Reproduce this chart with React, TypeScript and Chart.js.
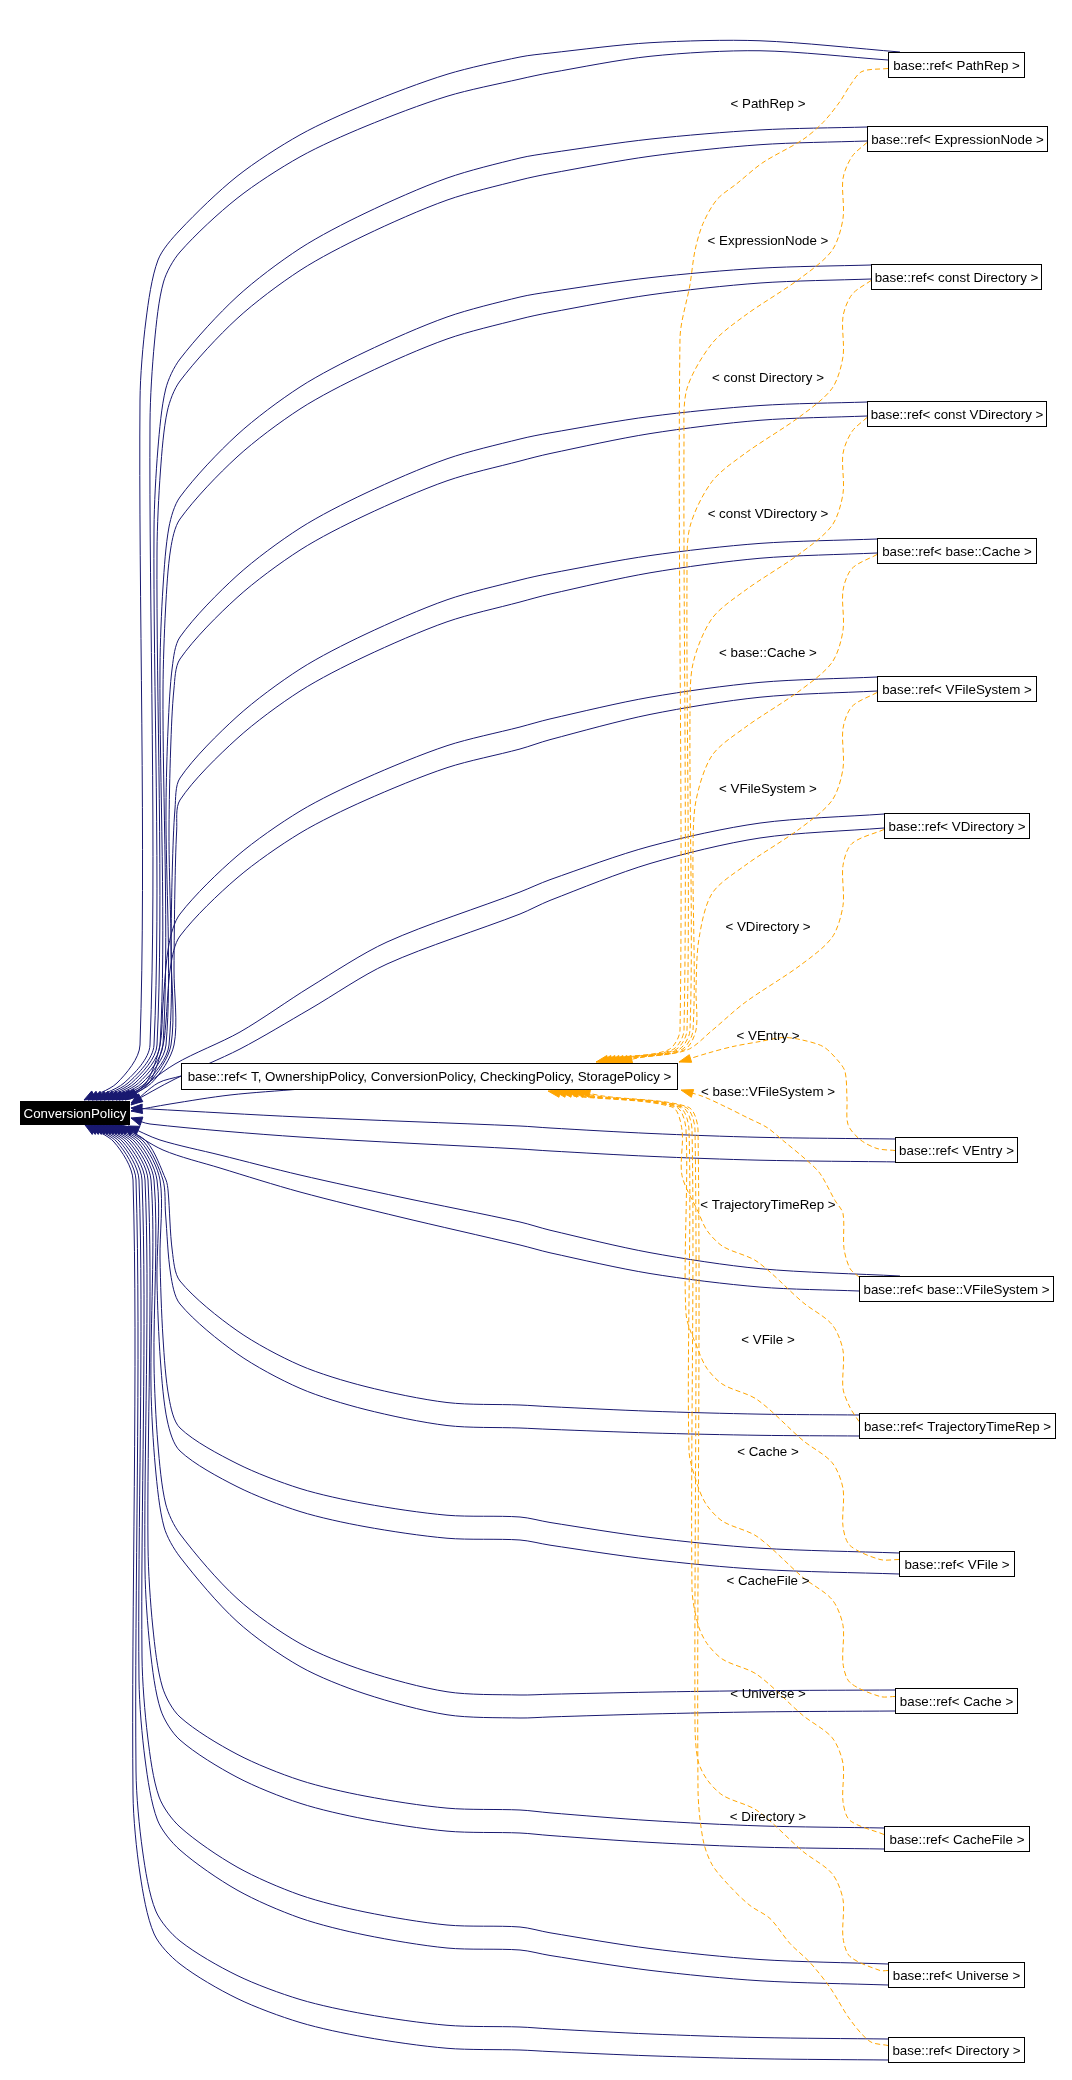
import React, { useEffect, useRef } from 'react';
import { Chart, registerables } from 'chart.js';

Chart.register(...registerables);

const W = 1072;
const H = 2080;
const BLUE = '#191970';
const ORANGE = '#ffa500';
const FONT = '13.33px "Liberation Sans", Arial, Helvetica, sans-serif';

// ---------------- graph content ----------------
const policyName = 'ConversionPolicy';
const templateName = 'base::ref< T, OwnershipPolicy, ConversionPolicy, CheckingPolicy, StoragePolicy >';
const instanceArgs = [
  'PathRep', 'ExpressionNode', 'const Directory', 'const VDirectory', 'base::Cache', 'VFileSystem', 'VDirectory',
  'VEntry', 'base::VFileSystem', 'TrajectoryTimeRep', 'VFile', 'Cache', 'CacheFile', 'Universe', 'Directory',
];
const UP = 7; // first seven instances sit above the template node

// ---------------- node layout (diagram units) ----------------
const policyBox = { left: 20, top: 1101, right: 129, bottom: 1124 };
const templateBox = { left: 181, top: 1063, right: 677, bottom: 1089 };
const boxLeft = [888, 867, 871, 867, 877, 877, 884, 895, 859, 859, 899, 895, 884, 888, 888];
const boxRight = [1024, 1047, 1041, 1046, 1036, 1036, 1029, 1017, 1053, 1055, 1014, 1017, 1029, 1024, 1024];
const boxTop = [52, 126, 264, 401, 538, 676, 813, 1137, 1276, 1413, 1551, 1688, 1826, 1962, 2037];
const BOX_H = 25;
const labelX = 768;
const labelY = [103, 240, 377, 513, 652, 788, 926, 1035, 1091, 1204, 1339, 1451, 1580, 1693, 1816];

// ---------------- blue (usage) edge routing ----------------
const blueYA = [57, 158, 297, 439, 580, 727, 892, 1126, 1222, 1405, 1517, 1695, 1810, 1927, 2027];
const blueBend = [173, 201, 200, 198, 198, 187, 0, 0, 0, 124, 89, 161, 93, 100, 86];
const blueHump = [13, 0, 0, 0, 0, 0, 0, 0, 0, 0, 0, 0, 0, 0, 0];
const blueLane = [[140, 150], [154, 157], [160, 163], [166, 169], [171, 174], [160, 163], [0, 0], [0, 0], [0, 0],
  [166, 163], [160, 157], [154, 151], [148, 145], [142, 139], [136, 133]];
const blueTip = [
  [[84, 1100], [88, 1100]], [[92, 1100], [96, 1100]], [[100, 1100], [104, 1100]], [[108, 1100], [112, 1100]],
  [[116, 1100], [119, 1100]], [[122, 1100], [125, 1100]], [[127, 1099], [131, 1103]],
  [[131, 1108], [131, 1118]], [[128, 1126], [123, 1126]],
  [[118, 1125], [115, 1125]], [[112, 1125], [109, 1125]], [[106, 1125], [103, 1125]], [[100, 1125], [97, 1125]],
  [[94, 1125], [91, 1125]], [[88, 1125], [85, 1125]],
];
const directMid: Record<number, number[][][]> = {
  6: [[[387, 50], [310, 95], [240, 140], [175, 172]], [[387, 50], [310, 95], [240, 135], [175, 165]]],
  7: [[[300, -9], [150, -17]], [[300, -12], [150, -25]]],
  8: [[[400, -25], [300, -47], [220, -67], [160, -82]], [[400, -28], [300, -53], [220, -77], [163, -95]]],
};
const BEND_X = [447, 365, 300, 237, 180];
const BEND_F_UP = [0.1, 0.275, 0.45, 0.69, 1];
const BEND_F_DOWN = [0.02, 0.15, 0.32, 0.6, 1];

// ---------------- orange (template instance) edge routing ----------------
const ORANGE_S_UP = [[852, 18], [843, 40], [843, 80], [832, 112], [800, 140], [745, 177], [712, 205]];
const ORANGE_DIAG_UP = [[862, 7], [850, 21], [840, 37], [823, 58], [803, 75], [763, 98], [737, 119], [717, 135], [703, 159], [695, 186], [690, 220]];
const ORANGE_S_DOWN = [[880, -4], [850, -18], [843, -37], [843, -75], [832, -101], [803, -123], [757, -164], [723, -179], [707, -195], [698, -214]];
const ORANGE_DIAG_DOWN = [[870, -8], [850, -30], [830, -62], [810, -87], [790, -106], [770, -131], [750, -144], [730, -163], [712, -185], [703, -210]];
const ORANGE_LOOP = [[877, -1], [860, -10], [848, -25], [847, -50], [845, -78], [837, -90], [823, -103], [800, -110], [783, -112], [760, -108], [733, -103], [710, -97]];
const ORANGE_CORNER = [[850, -20], [844, -40], [843, -75], [835, -88], [820, -115], [807, -128], [783, -148], [767, -161], [747, -171], [727, -181], [703, -192]];
const orangeShape = ['diagUp', 'sUp', 'sUp', 'sUp', 'sUp', 'sUp', 'sUp', 'loop', 'corner', 'sDown', 'sDown', 'sDown', 'sDown', 'sDown', 'diagDown'];
const orangeLane = [680, 684, 687, 690, 693, 696, 699, 0, 0, 682, 686, 689, 692, 695, 698];
const orangeTipX = [596, 600, 604, 608, 612, 616, 620, 679, 681, 548, 554, 560, 566, 572, 578];

type Pt = { x: number; y: number };

function approach(sx: number, sy: number, yA: number, hump: number): Pt[] {
  const pts: Pt[] = [{ x: sx, y: sy }];
  for (const x of [760, 650, 550]) {
    if (x < sx - 40) {
      const t = (x - 520) / (sx - 520);
      const f = 1 - (1 - t) * (1 - t);
      pts.push({ x, y: yA + (sy - yA) * f - hump * Math.sin(Math.PI * t) });
    }
  }
  pts.push({ x: 520, y: yA });
  return pts;
}

function blueStarts(i: number): Pt[] {
  const l = boxLeft[i];
  const t = boxTop[i];
  if (i === 0) return [{ x: l + 12, y: t }, { x: l, y: t + 8 }];
  if (i < UP) return [{ x: l, y: t + 1 }, { x: l, y: t + 15 }];
  if (i === 7) return [{ x: l, y: t + 2 }, { x: l + 8, y: t + BOX_H }];
  if (i === 8) return [{ x: l + 41, y: t }, { x: l, y: t + 15 }];
  return [{ x: l, y: t + 2 }, { x: l, y: t + 23 }];
}

function blueRoute(i: number, k: number): Pt[] {
  const start = blueStarts(i)[k];
  const gap = i < UP ? 22 : 23;
  const yA = blueYA[i] + k * gap;
  const pts = approach(start.x, start.y, yA, blueHump[i]);
  const [tx, ty] = blueTip[i][k];
  const D = blueBend[i];
  if (D === 0) {
    directMid[i][k].forEach(([x, dy]) => pts.push({ x, y: yA + dy }));
    pts.push({ x: tx, y: ty });
    return pts;
  }
  const lane = blueLane[i][k];
  const s = i < UP ? 1 : -1;
  const fr = i < UP ? BEND_F_UP : BEND_F_DOWN;
  BEND_X.forEach((x, j) => pts.push({ x, y: yA + s * D * fr[j] }));
  const yB = yA + s * D;
  const post = [
    { x: lane + (180 - lane) * 0.45, y: yB + s * 30 },
    { x: lane + (180 - lane) * 0.15, y: yB + s * 90 },
    { x: lane, y: yB + s * 170 },
  ];
  const yLane = i < UP ? 1045 : 1180;
  post.forEach((p) => { if (s * (yLane - p.y) > 5) pts.push(p); });
  pts.push({ x: lane, y: yLane });
  pts.push({ x: (lane + tx) / 2 + 5, y: i < UP ? 1083 : 1142 });
  pts.push({ x: tx, y: ty });
  return pts;
}

function templateRoutes(): Pt[][] {
  const p = policyBox;
  const t = templateBox;
  return [
    [{ x: t.left, y: t.top + 13 }, { x: 158, y: t.top + 20 }, { x: p.right + 2, y: p.top + 4 }],
    [{ x: t.left + 120, y: t.bottom }, { x: 230, y: t.bottom + 6 }, { x: 170, y: p.top + 3 }, { x: p.right + 2, y: p.top + 10 }],
  ];
}

function orangeRoute(i: number): Pt[] {
  const l = boxLeft[i];
  const c = boxTop[i] + BOX_H / 2;
  const shape = orangeShape[i];
  const lane = orangeLane[i];
  const tip = orangeTipX[i];
  const tpl = shape === 'diagUp' ? ORANGE_DIAG_UP : shape === 'sUp' ? ORANGE_S_UP : shape === 'sDown' ? ORANGE_S_DOWN
    : shape === 'diagDown' ? ORANGE_DIAG_DOWN : shape === 'loop' ? ORANGE_LOOP : ORANGE_CORNER;
  const up = shape === 'diagUp' || shape === 'sUp';
  const down = shape === 'sDown' || shape === 'diagDown';
  const startY = up ? c + 4 : shape === 'corner' ? boxTop[i] + 1 : shape === 'loop' ? c + 1 : c - 4;
  let pts: Pt[] = [{ x: l, y: startY }];
  tpl.forEach(([x, dy]) => { if (x < l - 5) pts.push({ x, y: c + dy }); });
  if (up) {
    if (shape === 'diagUp') pts.push({ x: lane, y: c + 274 });
    else { pts.push({ x: lane + 3, y: c + 250 }); pts.push({ x: lane, y: c + 300 }); }
    pts = pts.filter((p, k) => k === 0 || p.y <= 1032);
    if (pts[pts.length - 1].y < 1025) pts.push({ x: lane, y: 1030 });
    pts.push({ x: lane - 12, y: 1050 }, { x: tip + 18, y: 1058 }, { x: tip, y: 1062 });
  } else if (down) {
    pts.push({ x: lane, y: c - (shape === 'diagDown' ? 260 : 250) });
    pts = pts.filter((p, k) => k === 0 || p.y >= 1128);
    if (pts[pts.length - 1].y > 1135) pts.push({ x: lane, y: 1130 });
    pts.push({ x: lane - 10, y: 1107 }, { x: tip + 25, y: 1096 }, { x: tip, y: 1091 });
  } else if (shape === 'loop') {
    pts.push({ x: tip, y: 1062 });
  } else {
    pts.push({ x: tip, y: 1090 });
  }
  return pts;
}

function buildDatasets(): any[] {
  const ds: any[] = [];
  instanceArgs.forEach((_, i) => {
    ds.push({
      type: 'line', data: orangeRoute(i), borderColor: ORANGE, backgroundColor: ORANGE, borderWidth: 1,
      borderDash: [5, 3], pointRadius: 0, tension: 0.3, fill: false, arrowLen: 12, arrowHalf: 4,
    });
  });
  instanceArgs.forEach((_, i) => {
    [0, 1].forEach((k) => {
      ds.push({
        type: 'line', data: blueRoute(i, k), borderColor: BLUE, backgroundColor: BLUE, borderWidth: 1,
        pointRadius: 0, tension: 0.3, fill: false, arrowLen: 11, arrowHalf: 4.5,
      });
    });
  });
  templateRoutes().forEach((r) => {
    ds.push({
      type: 'line', data: r, borderColor: BLUE, backgroundColor: BLUE, borderWidth: 1,
      pointRadius: 0, tension: 0.3, fill: false, arrowLen: 11, arrowHalf: 4.5,
    });
  });
  return ds;
}

const diagramPlugin = {
  id: 'diagram',
  afterDatasetsDraw(chart: any) {
    const { ctx, scales } = chart;
    const px = (v: number) => scales.x.getPixelForValue(v);
    const py = (v: number) => scales.y.getPixelForValue(v);
    ctx.save();
    // arrow heads at the target end of each edge
    chart.data.datasets.forEach((ds: any, i: number) => {
      const els = chart.getDatasetMeta(i).data;
      const n = els.length;
      if (n < 2) return;
      const last = els[n - 1];
      const prev = els[n - 2];
      let dx = last.x - (last.cp1x ?? prev.x);
      let dy = last.y - (last.cp1y ?? prev.y);
      if (Math.hypot(dx, dy) < 1) { dx = last.x - prev.x; dy = last.y - prev.y; }
      const len = Math.hypot(dx, dy) || 1;
      const ux = dx / len;
      const uy = dy / len;
      const L = ds.arrowLen;
      const hw = ds.arrowHalf;
      ctx.beginPath();
      ctx.moveTo(last.x, last.y);
      ctx.lineTo(last.x - ux * L - uy * hw, last.y - uy * L + ux * hw);
      ctx.lineTo(last.x - ux * L + uy * hw, last.y - uy * L - ux * hw);
      ctx.closePath();
      ctx.fillStyle = ds.borderColor;
      ctx.strokeStyle = ds.borderColor;
      ctx.lineWidth = 1;
      ctx.setLineDash([]);
      ctx.fill();
      ctx.stroke();
    });

    const box = (l: number, t: number, r: number, b: number, text: string, fill: string, ink: string) => {
      const x0 = Math.round(px(l)) + 0.5;
      const y0 = Math.round(py(t)) + 0.5;
      const x1 = Math.round(px(r)) + 0.5;
      const y1 = Math.round(py(b)) + 0.5;
      ctx.fillStyle = fill;
      ctx.fillRect(x0, y0, x1 - x0, y1 - y0);
      ctx.strokeStyle = '#000';
      ctx.lineWidth = 1;
      ctx.setLineDash([]);
      ctx.strokeRect(x0, y0, x1 - x0, y1 - y0);
      ctx.fillStyle = ink;
      ctx.font = FONT;
      ctx.textAlign = 'center';
      ctx.textBaseline = 'middle';
      ctx.fillText(text, (x0 + x1) / 2, (y0 + y1) / 2 + 1);
    };

    box(policyBox.left, policyBox.top, policyBox.right, policyBox.bottom, policyName, '#000', '#fff');
    box(templateBox.left, templateBox.top, templateBox.right, templateBox.bottom, templateName, '#fff', '#000');
    instanceArgs.forEach((a, i) => {
      box(boxLeft[i], boxTop[i], boxRight[i], boxTop[i] + BOX_H, `base::ref< ${a} >`, '#fff', '#000');
    });

    ctx.fillStyle = '#000';
    ctx.font = FONT;
    ctx.textAlign = 'center';
    ctx.textBaseline = 'middle';
    instanceArgs.forEach((a, i) => {
      ctx.fillText(`< ${a} >`, px(labelX), py(labelY[i]) + 1);
    });
    ctx.restore();
  },
};

export default function App() {
  const ref = useRef<HTMLCanvasElement>(null);
  useEffect(() => {
    const canvas = ref.current;
    if (!canvas) return;
    const chart = new Chart(canvas, {
      type: 'line',
      data: { datasets: buildDatasets() },
      options: {
        animation: false,
        responsive: false,
        maintainAspectRatio: false,
        devicePixelRatio: 1,
        events: [],
        layout: { padding: 0 },
        plugins: { legend: { display: false }, tooltip: { enabled: false } },
        scales: {
          x: { type: 'linear', min: 0, max: W, display: false },
          y: { type: 'linear', min: 0, max: H, reverse: true, display: false },
        },
      },
      plugins: [diagramPlugin],
    } as any);
    return () => chart.destroy();
  }, []);
  return (
    <div style={{ position: 'absolute', left: 0, top: 0, width: W, height: H, background: '#fff' }}>
      <canvas ref={ref} width={W} height={H} style={{ display: 'block', width: W, height: H }} />
    </div>
  );
}
